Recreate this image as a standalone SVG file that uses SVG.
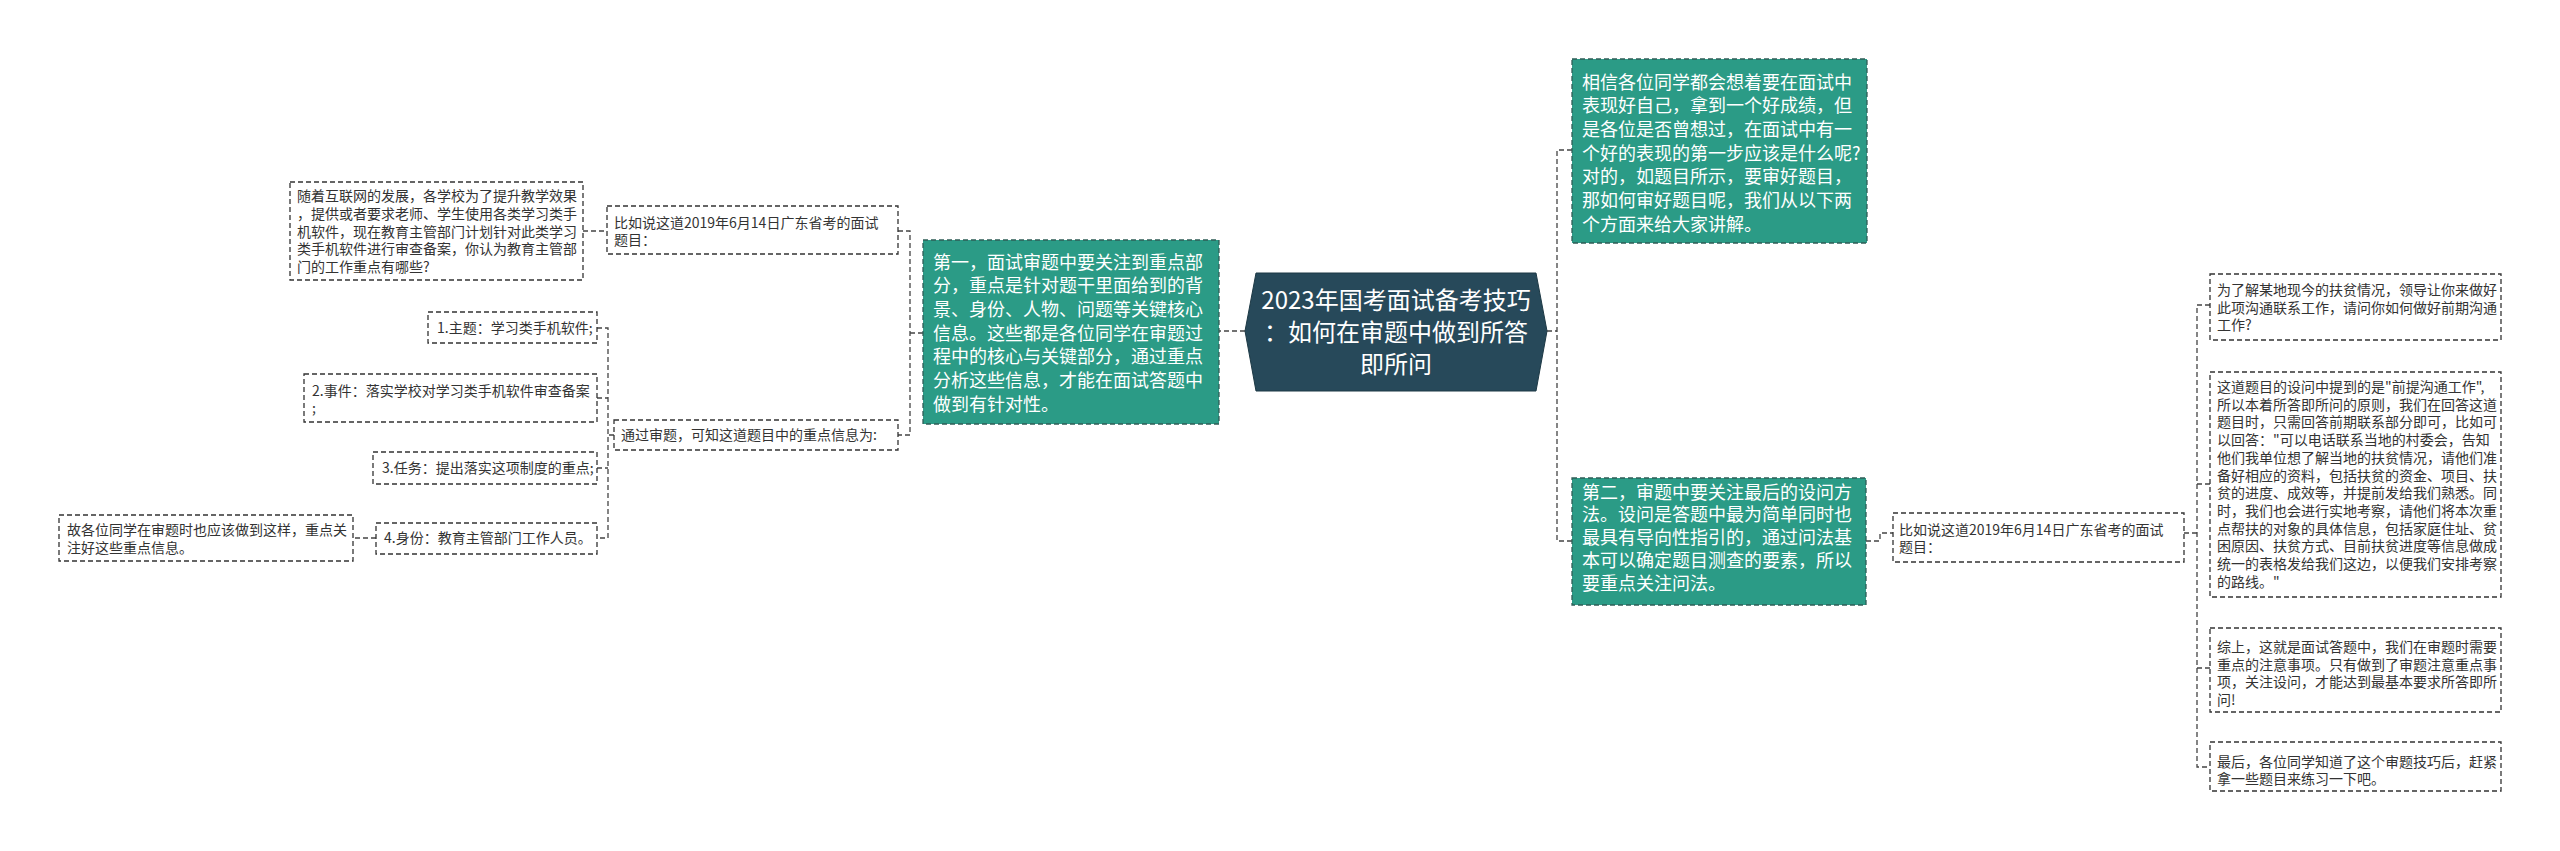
<svg xmlns="http://www.w3.org/2000/svg" width="2560" height="851" viewBox="0 0 2560 851">
<style>
.t{font-family:"Noto Sans CJK SC","Liberation Sans",sans-serif;}
.s{font-size:14px;fill:#333;}
.w{font-size:18px;fill:#fff;}
.c{font-size:24px;fill:#fff;}
.box{fill:#fff;stroke:#333;stroke-width:1.3;stroke-dasharray:5 3;}
.teal{fill:#2b9b86;stroke:#2f5e57;stroke-width:1.3;stroke-dasharray:5 3;}
.con{fill:none;stroke:#444;stroke-width:1.3;stroke-dasharray:5 3;}
</style>
<rect width="2560" height="851" fill="#fff"/>
<g id="connectors">
<path class="con" d="M1245 331 H1219"/>
<path class="con" d="M898 231 H910 V435 H898 M910 333 H923"/>
<path class="con" d="M583 231 H607"/>
<path class="con" d="M614 435 H608 M597 328 H608 V538 H597 M597 398 H608 M597 468 H608"/>
<path class="con" d="M376 538 H353"/>
<path class="con" d="M1547 331 H1557 M1572 150 H1557 V541 H1572"/>
<path class="con" d="M1866 541 H1880 V533 H1893"/>
<path class="con" d="M2184 533 H2197 M2210 305 H2197 V767 H2210 M2197 484 H2210 M2197 668 H2210"/>
</g>
<g id="center">
<polygon points="1245,331 1256,273 1536,273 1547,331 1536,391 1256,391" fill="#27495a" stroke="#1d3945" stroke-width="1"/>
<text class="t c" text-anchor="middle"><tspan x="1396" y="309">2023年国考面试备考技巧</tspan><tspan x="1396" y="341">：如何在审题中做到所答</tspan><tspan x="1396" y="373">即所问</tspan></text>
</g>
<g id="node-first">
<rect class="teal" x="923" y="240" width="296" height="184"/>
<text class="t w"><tspan x="933" y="268.5">第一，面试审题中要关注到重点部</tspan><tspan x="933" y="292.2">分，重点是针对题干里面给到的背</tspan><tspan x="933" y="315.9">景、身份、人物、问题等关键核心</tspan><tspan x="933" y="339.6">信息。这些都是各位同学在审题过</tspan><tspan x="933" y="363.3">程中的核心与关键部分，通过重点</tspan><tspan x="933" y="387">分析这些信息，才能在面试答题中</tspan><tspan x="933" y="410.7">做到有针对性。</tspan></text>
</g>
<g id="node-example-left">
<rect class="box" x="607" y="206" width="291" height="48"/>
<text class="t s"><tspan x="614" y="228">比如说这道2019年6月14日广东省考的面试</tspan><tspan x="614" y="245">题目：</tspan></text>
</g>
<g id="node-question-left">
<rect class="box" x="290" y="182" width="293" height="98"/>
<text class="t s"><tspan x="297" y="201">随着互联网的发展，各学校为了提升教学效果</tspan><tspan x="297" y="218.8">，提供或者要求老师、学生使用各类学习类手</tspan><tspan x="297" y="236.6">机软件，现在教育主管部门计划针对此类学习</tspan><tspan x="297" y="254.4">类手机软件进行审查备案，你认为教育主管部</tspan><tspan x="297" y="272.2">门的工作重点有哪些?</tspan></text>
</g>
<g id="node-review">
<rect class="box" x="614" y="420" width="284" height="30"/>
<text class="t s"><tspan x="621" y="440">通过审题，可知这道题目中的重点信息为:</tspan></text>
</g>
<g id="item-1">
<rect class="box" x="428" y="312" width="169" height="31"/>
<text class="t s"><tspan x="437" y="333">1.主题：学习类手机软件;</tspan></text>
</g>
<g id="item-2">
<rect class="box" x="304" y="374" width="293" height="48"/>
<text class="t s"><tspan x="312" y="396">2.事件：落实学校对学习类手机软件审查备案</tspan><tspan x="312" y="413">;</tspan></text>
</g>
<g id="item-3">
<rect class="box" x="373" y="452" width="224" height="32"/>
<text class="t s"><tspan x="382" y="473">3.任务：提出落实这项制度的重点;</tspan></text>
</g>
<g id="item-4">
<rect class="box" x="376" y="523" width="221" height="31"/>
<text class="t s"><tspan x="384" y="543">4.身份：教育主管部门工作人员。</tspan></text>
</g>
<g id="node-conclusion-left">
<rect class="box" x="59" y="515" width="294" height="46"/>
<text class="t s"><tspan x="67" y="535">故各位同学在审题时也应该做到这样，重点关</tspan><tspan x="67" y="553">注好这些重点信息。</tspan></text>
</g>
<g id="node-intro">
<rect class="teal" x="1572" y="59" width="295" height="184"/>
<text class="t w"><tspan x="1582" y="88.5">相信各位同学都会想着要在面试中</tspan><tspan x="1582" y="112.2">表现好自己，拿到一个好成绩，但</tspan><tspan x="1582" y="135.9">是各位是否曾想过，在面试中有一</tspan><tspan x="1582" y="159.6">个好的表现的第一步应该是什么呢?</tspan><tspan x="1582" y="183.3">对的，如题目所示，要审好题目，</tspan><tspan x="1582" y="207">那如何审好题目呢，我们从以下两</tspan><tspan x="1582" y="230.7">个方面来给大家讲解。</tspan></text>
</g>
<g id="node-second">
<rect class="teal" x="1572" y="478" width="294" height="127"/>
<text class="t w"><tspan x="1582" y="498.5">第二，审题中要关注最后的设问方</tspan><tspan x="1582" y="521.3">法。设问是答题中最为简单同时也</tspan><tspan x="1582" y="544.1">最具有导向性指引的，通过问法基</tspan><tspan x="1582" y="566.9">本可以确定题目测查的要素，所以</tspan><tspan x="1582" y="589.7">要重点关注问法。</tspan></text>
</g>
<g id="node-example-right">
<rect class="box" x="1893" y="513" width="291" height="49"/>
<text class="t s"><tspan x="1899" y="535">比如说这道2019年6月14日广东省考的面试</tspan><tspan x="1899" y="552">题目：</tspan></text>
</g>
<g id="node-question-right">
<rect class="box" x="2210" y="274" width="291" height="66"/>
<text class="t s"><tspan x="2217" y="295">为了解某地现今的扶贫情况，领导让你来做好</tspan><tspan x="2217" y="312.7">此项沟通联系工作，请问你如何做好前期沟通</tspan><tspan x="2217" y="330.4">工作?</tspan></text>
</g>
<g id="node-answer">
<rect class="box" x="2210" y="372" width="291" height="225"/>
<text class="t s"><tspan x="2217" y="392">这道题目的设问中提到的是"前提沟通工作",</tspan><tspan x="2217" y="409.7">所以本着所答即所问的原则，我们在回答这道</tspan><tspan x="2217" y="427.4">题目时，只需回答前期联系部分即可，比如可</tspan><tspan x="2217" y="445.1">以回答："可以电话联系当地的村委会，告知</tspan><tspan x="2217" y="462.8">他们我单位想了解当地的扶贫情况，请他们准</tspan><tspan x="2217" y="480.5">备好相应的资料，包括扶贫的资金、项目、扶</tspan><tspan x="2217" y="498.2">贫的进度、成效等，并提前发给我们熟悉。同</tspan><tspan x="2217" y="515.9">时，我们也会进行实地考察，请他们将本次重</tspan><tspan x="2217" y="533.6">点帮扶的对象的具体信息，包括家庭住址、贫</tspan><tspan x="2217" y="551.3">困原因、扶贫方式、目前扶贫进度等信息做成</tspan><tspan x="2217" y="569">统一的表格发给我们这边，以便我们安排考察</tspan><tspan x="2217" y="586.7">的路线。"</tspan></text>
</g>
<g id="node-summary">
<rect class="box" x="2210" y="628" width="291" height="84"/>
<text class="t s"><tspan x="2217" y="652">综上，这就是面试答题中，我们在审题时需要</tspan><tspan x="2217" y="669.6">重点的注意事项。只有做到了审题注意重点事</tspan><tspan x="2217" y="687.2">项，关注设问，才能达到最基本要求所答即所</tspan><tspan x="2217" y="704.8">问!</tspan></text>
</g>
<g id="node-final">
<rect class="box" x="2210" y="742" width="291" height="49"/>
<text class="t s"><tspan x="2217" y="767">最后，各位同学知道了这个审题技巧后，赶紧</tspan><tspan x="2217" y="783.5">拿一些题目来练习一下吧。</tspan></text>
</g>
</svg>
